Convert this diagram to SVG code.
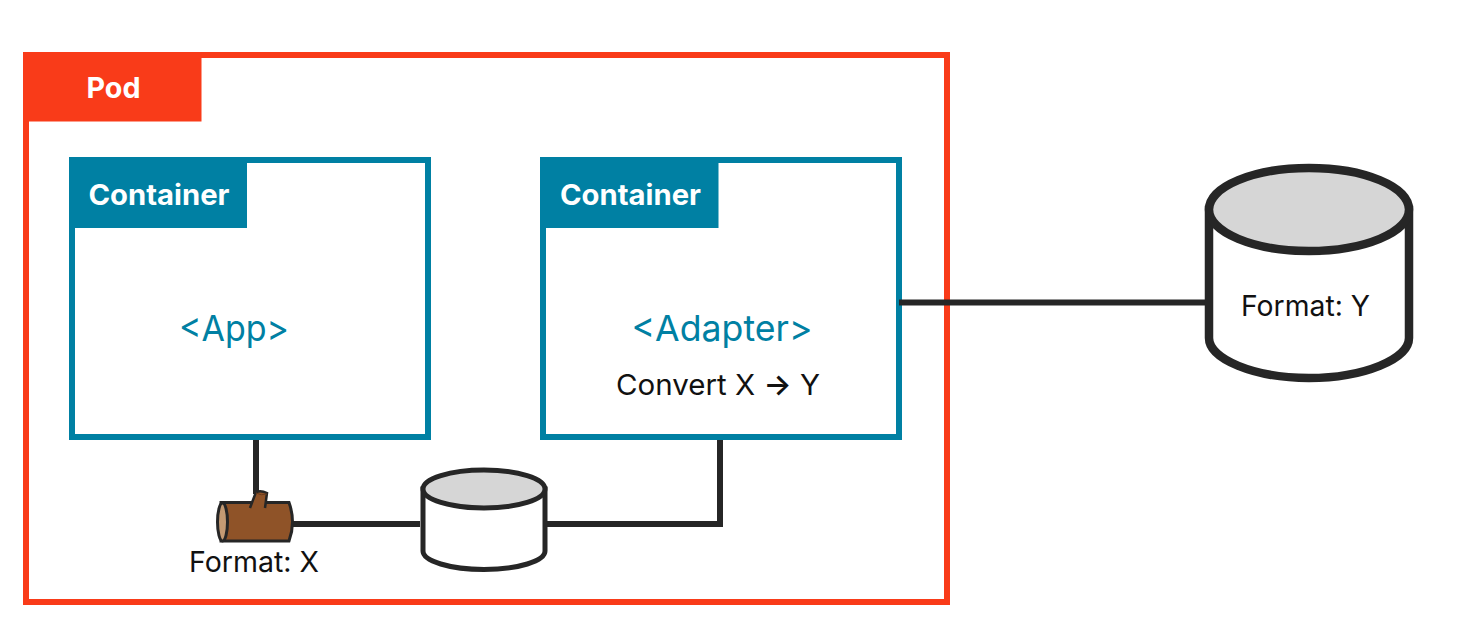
<svg xmlns="http://www.w3.org/2000/svg" width="1471" height="628" viewBox="0 0 1471 628">
<style>
text{font-family:"Inter","Liberation Sans",sans-serif;text-anchor:middle}
.frame{fill:#fff;stroke:#0080a3;stroke-width:6}
.tab{fill:#0080a3}
.title{fill:#fff;font-weight:700;font-size:29px}
.teal{fill:#0080a3;font-size:36px}
.blk{fill:#111;font-size:29px}
.conn{fill:none;stroke:#262626;stroke-width:6}
.cyl{fill:#fff;stroke:#262626}
.cyl.top{fill:#d6d6d6}
.edge{fill:none;stroke:#262626;stroke-width:2.500}
.wood{fill:#8f5328}
</style>
<rect width="1471" height="628" fill="#fff"/>
<g id="pod">
<rect x="26" y="55" width="921" height="547" fill="#fff" stroke="#f93b19" stroke-width="6"/>
<rect x="23" y="52" width="178.500" height="69.500" fill="#f93b19"/>
<text class="title" x="113.500" y="98" textLength="54" lengthAdjust="spacingAndGlyphs">Pod</text>
</g>
<g id="app">
<rect class="frame" x="72" y="160" width="356" height="277"/>
<rect class="tab" x="69" y="157" width="178" height="71"/>
<text class="title" x="159" y="205" textLength="141" lengthAdjust="spacingAndGlyphs">Container</text>
<text class="teal" x="234" y="341" textLength="110" lengthAdjust="spacingAndGlyphs">&lt;App&gt;</text>
</g>
<g id="adapter">
<rect class="frame" x="543" y="160" width="356" height="277"/>
<rect class="tab" x="540" y="157" width="178.500" height="71"/>
<text class="title" x="630.500" y="205" textLength="141" lengthAdjust="spacingAndGlyphs">Container</text>
<text class="teal" x="722" y="341" textLength="181" lengthAdjust="spacingAndGlyphs">&lt;Adapter&gt;</text>
<text class="blk" x="718" y="395" textLength="204" lengthAdjust="spacingAndGlyphs">Convert X <tspan font-weight="600">→</tspan> Y</text>
</g>
<g id="connectors">
<path class="conn" d="M256 440V494"/>
<path class="conn" d="M293 524H420"/>
<path class="conn" d="M546 524H720V440"/>
<path class="conn" d="M899 302.500H1208"/>
</g>
<g id="log">
<path class="wood" d="M221 502.500H289Q296 522 289 541H221Z" stroke="#262626" stroke-width="3"/>
<path class="wood" d="M250 508L256 492Q261 490 267 493L265 508Z"/>
<path class="edge" d="M250 508L256 492Q261 490 267 493L265 508"/>
<path d="M256 493Q261 496 267 494" fill="none" stroke="#6b3c1c" stroke-width="1"/>
<ellipse cx="222.500" cy="522" rx="5" ry="19" fill="#c49a73" stroke="#262626" stroke-width="3"/>
<text class="blk" x="254" y="572" textLength="130" lengthAdjust="spacingAndGlyphs">Format: X</text>
</g>
<g id="store">
<path class="cyl" stroke-width="5" d="M423 489V551C423 561 450 569.500 484 569.500S545 561 545 551V489Z"/>
<ellipse class="cyl top" stroke-width="5" cx="484" cy="489" rx="61" ry="19"/>
</g>
<g id="external">
<path class="cyl" stroke-width="8.500" d="M1209 210V338C1209 359 1254 378 1309 378S1409 359 1409 338V210Z"/>
<ellipse class="cyl top" stroke-width="8.500" cx="1309" cy="209.500" rx="100" ry="41.500"/>
<text class="blk" x="1305.500" y="316" textLength="129" lengthAdjust="spacingAndGlyphs">Format: Y</text>
</g>
</svg>
